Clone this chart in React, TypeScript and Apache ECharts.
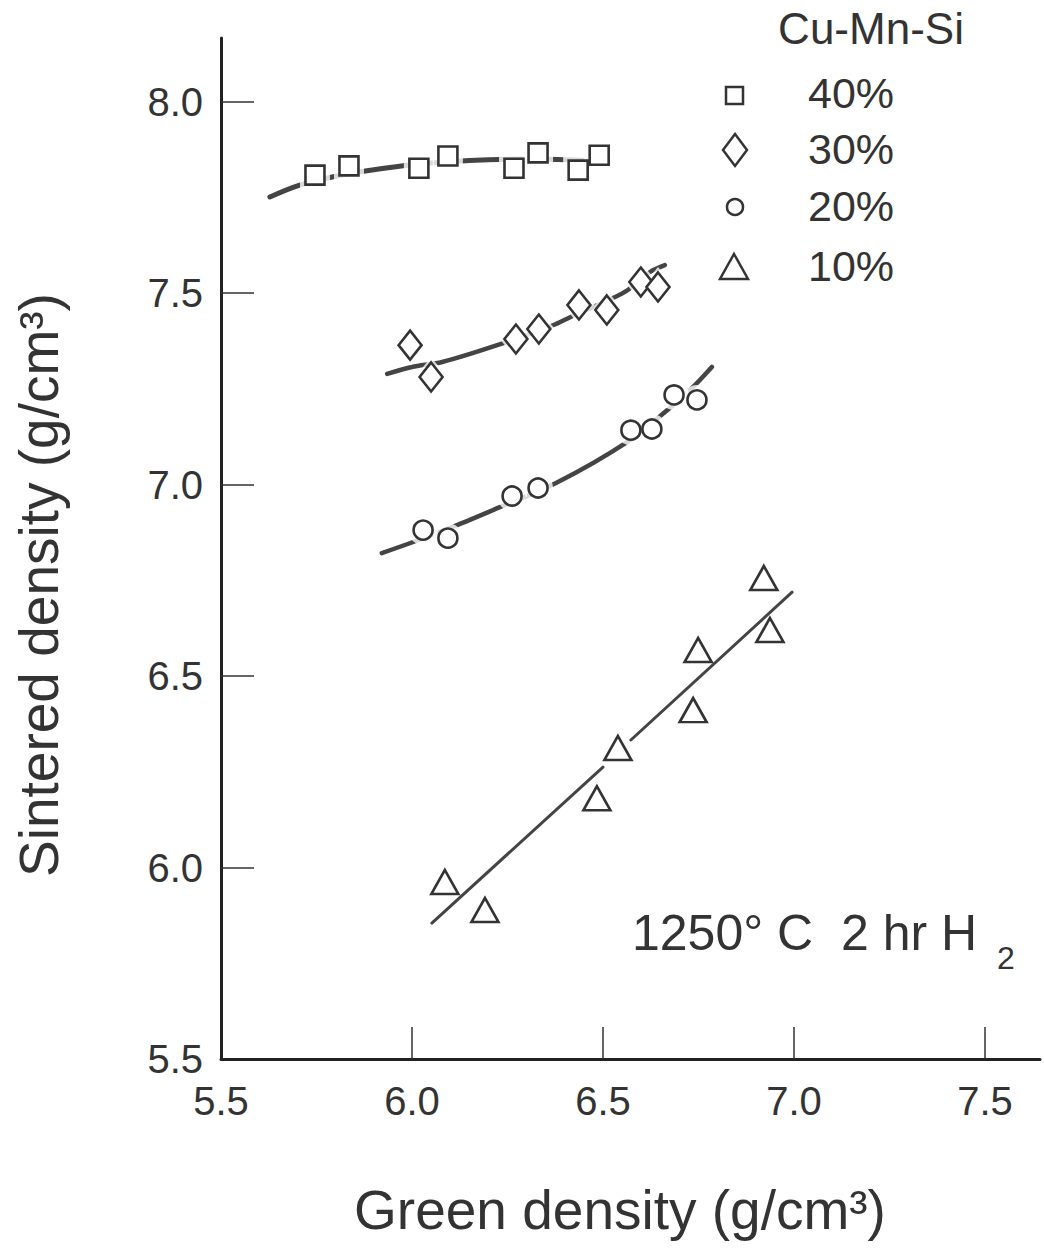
import React, { useEffect, useRef } from "react";
import * as echarts from "echarts";

const FONT = '"Liberation Sans", Arial, Helvetica, sans-serif';
const INK = "#333";

// Axis ticks / labels
const X_LABELS = [5.5, 6.0, 6.5, 7.0, 7.5];
const X_TICKS = [6.0, 6.5, 7.0, 7.5];
const Y_LABELS = [5.5, 6.0, 6.5, 7.0, 7.5, 8.0];
const Y_TICKS = [6.0, 6.5, 7.0, 7.5, 8.0];

// 40% Cu-Mn-Si (squares)
const sq40X = [5.746, 5.835, 6.018, 6.094, 6.267, 6.33, 6.435, 6.49];
const sq40Y = [7.808, 7.832, 7.826, 7.858, 7.826, 7.866, 7.821, 7.86];
const fit40X = [5.628, 5.7, 5.8, 5.9, 6.0, 6.1, 6.2, 6.3, 6.4, 6.5];
const fit40Y = [7.751, 7.78, 7.805, 7.822, 7.835, 7.843, 7.848, 7.85, 7.848, 7.845];

// 30% (diamonds)
const dia30X = [5.995, 6.05, 6.272, 6.332, 6.437, 6.51, 6.599, 6.644];
const dia30Y = [7.364, 7.281, 7.38, 7.406, 7.469, 7.456, 7.529, 7.516];
const fit30X = [5.935, 6.0, 6.079, 6.223, 6.369, 6.414, 6.526, 6.565, 6.623, 6.662];
const fit30Y = [7.289, 7.307, 7.32, 7.364, 7.416, 7.437, 7.487, 7.508, 7.555, 7.573];

// 20% (circles)
const cir20X = [6.029, 6.094, 6.262, 6.33, 6.573, 6.628, 6.686, 6.746];
const cir20Y = [6.881, 6.86, 6.97, 6.991, 7.142, 7.145, 7.234, 7.221];
const fit20X = [5.921, 6.003, 6.113, 6.23, 6.377, 6.563, 6.675, 6.736, 6.785];
const fit20Y = [6.821, 6.85, 6.892, 6.941, 7.004, 7.111, 7.2, 7.255, 7.307];

// 10% (triangles)
const tri10X = [6.086, 6.191, 6.484, 6.539, 6.736, 6.749, 6.921, 6.937];
const tri10Y = [5.962, 5.889, 6.181, 6.312, 6.411, 6.568, 6.756, 6.62];
const fit10aX = [6.052, 6.5];
const fit10aY = [5.855, 6.262];
const fit10bX = [6.573, 6.995];
const fit10bY = [6.333, 6.719];

const zip = (xs: number[], ys: number[]) => xs.map((x, i) => [x, ys[i]]);

export default function App() {
  const ref = useRef<HTMLDivElement>(null);
  useEffect(() => {
    if (!ref.current) return;
    const chart = echarts.init(ref.current, undefined, { renderer: "svg" });

    const fitLine = (name: string, data: any[], width: number) => ({
      name,
      type: "line",
      data,
      smooth: 0.3,
      showSymbol: false,
      symbol: "none",
      z: 1,
      lineStyle: { color: "#444", width, cap: "round" },
      silent: true,
    });
    const halo = (data: any[], symbol: string, size: any) => ({
      type: "scatter",
      data,
      symbol,
      symbolSize: size,
      z: 2,
      itemStyle: { color: "#ffffff", borderWidth: 0 },
      silent: true,
    });
    const marks = (name: string, data: any[], symbol: string, size: any) => ({
      name,
      type: "scatter",
      data,
      symbol,
      symbolSize: size,
      z: 3,
      itemStyle: { color: "#ffffff", borderColor: INK, borderWidth: 2.6, opacity: 1 },
    });

    const txt = (text: string, x: number, y: number, size: number, align = "left", extra: any = {}) => ({
      type: "text",
      x,
      y,
      ...extra,
      style: {
        text,
        fontSize: size,
        fontFamily: FONT,
        fill: INK,
        align,
        verticalAlign: "middle",
        textAlign: align,
        textVerticalAlign: "middle",
      },
    });
    const symStyle = { fill: "#fff", stroke: INK, lineWidth: 2.5 };

    chart.setOption({
      animation: false,
      backgroundColor: "#ffffff",
      grid: { left: 221, top: 38, width: 819, height: 1021, containLabel: false },
      xAxis: {
        type: "value",
        min: 5.5,
        max: 7.644,
        interval: 0.5,
        splitLine: { show: false },
        axisLine: { show: true, onZero: false, lineStyle: { color: "#222", width: 3 } },
        axisTick: { show: true, inside: true, length: 32, customValues: X_TICKS, lineStyle: { color: "#333", width: 1.5 } },
        axisLabel: {
          customValues: X_LABELS,
          margin: 22,
          fontSize: 40,
          fontFamily: FONT,
          color: INK,
          formatter: (v: number) => v.toFixed(1),
        },
      },
      yAxis: {
        type: "value",
        min: 5.5,
        max: 8.166,
        interval: 0.5,
        splitLine: { show: false },
        axisLine: { show: true, onZero: false, lineStyle: { color: "#222", width: 3 } },
        axisTick: { show: true, inside: true, length: 33, customValues: Y_TICKS, lineStyle: { color: "#333", width: 1.5 } },
        axisLabel: {
          customValues: Y_LABELS,
          margin: 18,
          fontSize: 40,
          fontFamily: FONT,
          color: INK,
          formatter: (v: number) => v.toFixed(1),
        },
      },
      series: [
        fitLine("fit 40%", zip(fit40X, fit40Y), 5),
        fitLine("fit 30%", zip(fit30X, fit30Y), 4.5),
        fitLine("fit 20%", zip(fit20X, fit20Y), 4.5),
        fitLine("fit 10% a", zip(fit10aX, fit10aY), 3),
        fitLine("fit 10% b", zip(fit10bX, fit10bY), 3),
        halo(zip(sq40X, sq40Y), "rect", 30),
        halo(zip(dia30X, dia30Y), "diamond", [32, 40]),
        halo(zip(cir20X, cir20Y), "circle", 30),
        marks("40%", zip(sq40X, sq40Y), "rect", 19),
        marks("30%", zip(dia30X, dia30Y), "diamond", [23, 29]),
        marks("20%", zip(cir20X, cir20Y), "circle", 19),
        marks("10%", zip(tri10X, tri10Y), "triangle", [27, 24]),
      ],
      graphic: [
        txt("Sintered density (g/cm³)", 39, 585, 55, "center", { rotation: Math.PI / 2 }),
        txt("Green density (g/cm³)", 620, 1210, 55, "center"),
        txt("Cu-Mn-Si", 871, 28, 44, "center"),
        txt("40%", 808, 93, 43),
        txt("30%", 808, 149, 43),
        txt("20%", 808, 206, 43),
        txt("10%", 808, 266, 43),
        { type: "rect", shape: { x: 726, y: 87, width: 17, height: 17 }, style: symStyle },
        { type: "polygon", shape: { points: [[735, 134], [747, 150], [735, 166], [723, 150]] }, style: symStyle },
        { type: "circle", shape: { cx: 735, cy: 207, r: 8 }, style: symStyle },
        { type: "polygon", shape: { points: [[734, 254], [748, 279], [720, 279]] }, style: symStyle },
        txt("1250° C  2 hr H", 632, 933, 50),
        txt("2", 997, 958, 32),
      ],
    });
    return () => chart.dispose();
  }, []);
  return (
    <div
      ref={ref}
      style={{ position: "absolute", left: 0, top: 0, width: 1044, height: 1253, background: "#fff" }}
    />
  );
}
